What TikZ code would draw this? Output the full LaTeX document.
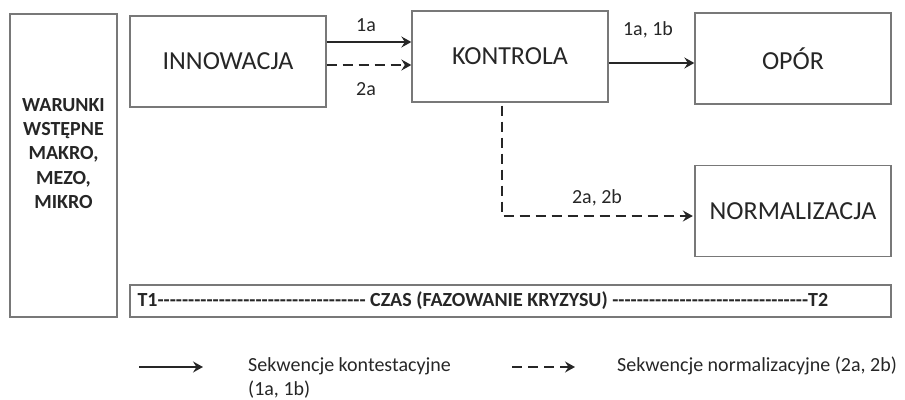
\documentclass[tikz,border=0pt]{standalone}
\usepackage{fontspec}
\setmainfont{Carlito}
\usetikzlibrary{arrows.meta,positioning,calc}
\definecolor{boxgray}{RGB}{120,120,120}
\definecolor{ink}{RGB}{38,38,38}
\newcommand{\dashrun}[1]{\foreach \i in {1,...,#1}{-\kern0pt}}

\begin{document}
\begin{tikzpicture}[x=1pt, y=-1pt, >={Stealth[length=10pt,width=11pt,inset=3.5pt]},
    stagebox/.style={draw=boxgray, line width=1.3pt, text=ink, inner sep=0pt,
        font=\fontsize{26}{31}\selectfont, minimum width=196pt, minimum height=91pt},
    flow/.style={->, ink, line width=2.3pt},
    nflow/.style={flow, dash pattern=on 10pt off 6pt},
    lbl/.style={text=ink, inner sep=0pt, font=\fontsize{20}{24}\selectfont}]

    \useasboundingbox (0,0) rectangle (905,399);

    % Preconditions column
    \node[stagebox, minimum width=107pt, minimum height=303pt] (warunki) at (63.5,165.5) {};
    \node[text=ink, align=center, font=\bfseries\fontsize{20}{24.3}\selectfont] (warunkitxt) at (63.5,153.5)
        {WARUNKI\\WSTĘPNE\\MAKRO,\\MEZO,\\MIKRO};

    % Stages
    \node[stagebox] (innow) at (228,61.5) {INNOWACJA};
    \node[stagebox] (kontr) at (510,56.5) {KONTROLA};
    \node[stagebox] (opor) at (793,58.5) {OPÓR};
    \node[stagebox] (norm) at (793,211) {NORMALIZACJA};

    % Time bar
    \node[stagebox, minimum width=761pt, minimum height=32pt] (czas) at (510.5,301) {};
    \node[lbl, anchor=west, font=\bfseries\fontsize{20}{24}\selectfont] (czastxt) at ([xshift=8pt]czas.west)
        {T1\dashrun{34} CZAS (FAZOWANIE KRYZYSU) \dashrun{32}T2};

    % Innowacja -> Kontrola
    \draw[flow] (innow.east |- 0,42) -- (kontr.west |- 0,42);
    \node[lbl] (l1a) at (366,25) {1a};
    \draw[nflow] (innow.east |- 0,65) -- (kontr.west |- 0,65);
    \node[lbl] (l2a) at (366,89) {2a};

    % Kontrola -> Opor
    \draw[flow] (kontr.east |- 0,63) -- (opor.west |- 0,63);
    \node[lbl] (l1ab) at (648,30) {1a, 1b};

    % Kontrola -> Normalizacja
    \draw[nflow, shorten <=3pt, shorten >=1.5pt] (kontr.south -| 502,0) |- (norm.west |- 0,216);
    \node[lbl] (l2ab) at (597,198) {2a, 2b};

    % Legend
    \coordinate (legsa) at (139,367);
    \coordinate (legsb) at (203,367);
    \draw[flow] (legsa) -- (legsb);
    \node[lbl, anchor=west, align=left] (legstxt) at (248,378) {Sekwencje kontestacyjne\\(1a, 1b)};
    \coordinate (legda) at (512,367);
    \coordinate (legdb) at (575,367);
    \draw[nflow] (legda) -- (legdb);
    \node[lbl, anchor=west] (legdtxt) at (617,366) {Sekwencje normalizacyjne (2a, 2b)};

\end{tikzpicture}
\end{document}
